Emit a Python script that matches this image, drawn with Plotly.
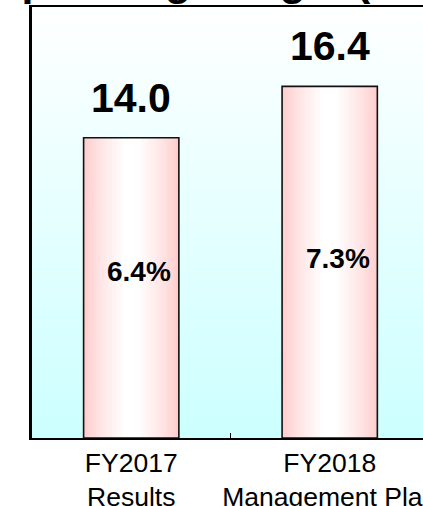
import base64
import plotly.graph_objects as go

# ---- data ----
categories = ["FY2017<br>Results", "FY2018<br>Management Plan"]
operating_income = [14.0, 16.4]          # billions of yen
operating_margin = ["6.4%", "7.3%"]      # margin labels
margin_label_y = [7.75, 8.35]            # label heights (data units)
title_text = "Operating Margin (Billion yen)"

# ---- style ----
FONT = "Liberation Sans, Arial, sans-serif"
BAR_W = 0.48
N_LAYERS = 20
EDGE = (255, 204, 204)
CENTER = (255, 255, 255)

fig = go.Figure()

# layered bars to imitate a horizontal pink-white-pink gradient
for k in range(N_LAYERS):
    t = min(1.0, (k / (N_LAYERS - 1)) ** 0.8 * 1.1)
    c = tuple(round(EDGE[i] + (CENTER[i] - EDGE[i]) * t) for i in range(3))
    fig.add_trace(go.Bar(
        x=categories, y=operating_income,
        width=BAR_W * (1 - k / N_LAYERS),
        marker=dict(color="rgb(%d,%d,%d)" % c, line=dict(width=0)),
        hoverinfo="skip", showlegend=False,
    ))

# outline
fig.add_trace(go.Bar(
    x=categories, y=operating_income, width=BAR_W,
    marker=dict(color="rgba(0,0,0,0)", line=dict(color="#111111", width=1.6)),
    showlegend=False,
))

# value labels above bars
for cat, v in zip(categories, operating_income):
    fig.add_annotation(x=cat, y=v, text="<b>%.1f</b>" % v, showarrow=False,
                       yanchor="middle", yshift=40,
                       font=dict(family=FONT, size=41, color="black"))

# margin labels inside bars
for cat, m, ly in zip(categories, operating_margin, margin_label_y):
    fig.add_annotation(x=cat, y=ly, text="<b>%s</b>" % m, showarrow=False,
                       yanchor="middle", xshift=8,
                       font=dict(family=FONT, size=28, color="black"))

# title (mostly above the visible area)
fig.add_annotation(xref="paper", yref="paper", x=-0.118, y=1.062,
                   xanchor="left", yanchor="middle", showarrow=False,
                   text="<b>%s</b>" % title_text,
                   font=dict(family=FONT, size=43, color="black"))

# gradient background
svg = ('<svg xmlns="http://www.w3.org/2000/svg" width="100" height="100" preserveAspectRatio="none">'
       '<defs><linearGradient id="g" x1="0" y1="0" x2="0" y2="1">'
       '<stop offset="0" stop-color="#FFFFFF"/><stop offset="1" stop-color="#CCFFFF"/>'
       '</linearGradient></defs><rect width="100" height="100" fill="url(#g)"/></svg>')
src = "data:image/svg+xml;base64," + base64.b64encode(svg.encode()).decode()
fig.add_layout_image(source=src, xref="paper", yref="paper", x=0, y=1,
                     sizex=1, sizey=1, sizing="stretch", layer="below",
                     xanchor="left", yanchor="top")

fig.update_layout(
    width=423, height=506,
    margin=dict(l=32, r=0, t=7, b=68),
    paper_bgcolor="white", plot_bgcolor="rgba(0,0,0,0)",
    barmode="overlay", bargap=0,
    font=dict(family=FONT, color="black"),
)
fig.update_xaxes(
    range=[-0.5, 1.47], showline=True, linecolor="black", linewidth=2,
    mirror=True, ticks="inside", tickson="boundaries", ticklen=5,
    tickwidth=1.5, tickcolor="black", showgrid=False, tickangle=0,
    tickfont=dict(family=FONT, size=26.5, color="black"), automargin=False,
)
fig.update_yaxes(
    range=[0, 20.1], showline=True, linecolor="black", linewidth=3,
    showticklabels=False, ticks="", showgrid=False, zeroline=False,
    automargin=False,
)

fig.write_html("out.html",
               config={"displayModeBar": False, "staticPlot": True},
               post_script="document.body.style.margin='0';document.body.style.padding='0';document.body.style.overflow='hidden';")
